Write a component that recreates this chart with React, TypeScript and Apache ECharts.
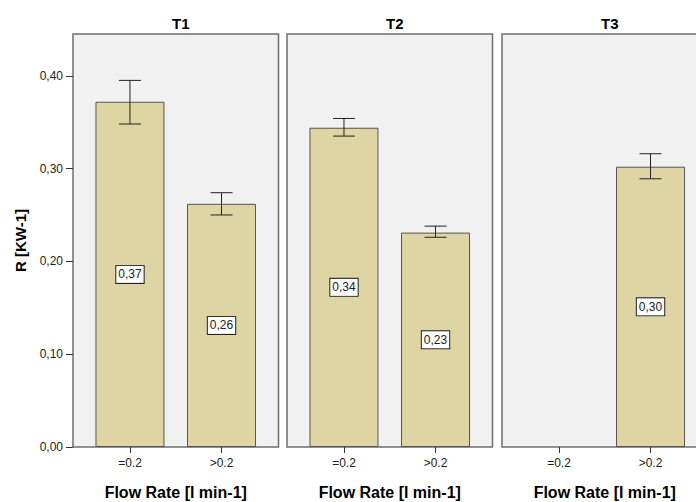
import React, { useEffect, useRef } from "react";
import * as echarts from "echarts";

const panels = ["T1", "T2", "T3"];
const categories = ["=0.2", ">0.2"];
const meanT1 = [0.372, 0.262];
const meanT2 = [0.344, 0.231];
const meanT3: (number | null)[] = [null, 0.302];
const lowT1 = [0.348, 0.25];
const lowT2 = [0.335, 0.226];
const lowT3: (number | null)[] = [null, 0.289];
const highT1 = [0.395, 0.274];
const highT2 = [0.354, 0.238];
const highT3: (number | null)[] = [null, 0.316];
const yTicks = [0, 0.1, 0.2, 0.3, 0.4];
const xTitle = "Flow Rate [l min-1]";
const yTitle = "R [KW-1]";

const means = [meanT1, meanT2, meanT3];
const lows = [lowT1, lowT2, lowT3];
const highs = [highT1, highT2, highT3];

const fmt = (v: number) => v.toFixed(2).replace(".", ",");

export default function App() {
  const ref = useRef<HTMLDivElement>(null);
  useEffect(() => {
    if (!ref.current) return;
    const chart = echarts.init(ref.current, null, { renderer: "svg" });
    const panelLefts = [73, 287, 502];
    const panelW = 205.5;
    const top = 34;
    const bottom = 447;
    const h = bottom - top;
    const inner = 11.2;
    const innerW = panelW - 2 * inner;
    const YMAX = 0.445;
    const font = "Arial, 'Liberation Sans', sans-serif";

    const grid: any[] = [];
    const xAxis: any[] = [];
    const yAxis: any[] = [];
    const series: any[] = [];
    const title: any[] = [];

    panels.forEach((p, i) => {
      const L = panelLefts[i];
      title.push({
        text: p,
        left: L + panelW / 2,
        top: 11,
        textAlign: "center",
        textStyle: { fontFamily: font, fontSize: 15, fontWeight: "bold", color: "#000" },
      });
      // frame grid
      grid.push({
        left: L, top, width: panelW, height: h, outerBoundsMode: "none", containLabel: false,
        show: true, backgroundColor: "#f1f1f1", borderColor: "#6e6e6e", borderWidth: 1.5,
      });
      xAxis.push({
        type: "category", gridIndex: 2 * i, data: categories, show: false,
      });
      yAxis.push({
        type: "value", gridIndex: 2 * i, min: 0, max: YMAX, show: i === 0,
        name: i === 0 ? yTitle : "",
        nameLocation: "middle", nameGap: 53,
        nameTextStyle: { fontFamily: font, fontSize: 15, fontWeight: "bold", color: "#000", verticalAlign: "middle" },
        axisLine: { show: false },
        axisTick: { show: true, length: 7, customValues: yTicks, lineStyle: { color: "#333" } },
        axisLabel: { customValues: yTicks, formatter: (v: number) => fmt(v), fontFamily: font, fontSize: 12, color: "#222", margin: 10 },
        splitLine: { show: false },
      });
      // bar grid
      grid.push({ left: L + inner, top, width: innerW, height: h, show: false, outerBoundsMode: "none", containLabel: false });
      xAxis.push({
        type: "category", gridIndex: 2 * i + 1, data: categories, boundaryGap: true,
        axisLine: { show: false },
        axisTick: { show: true, alignWithLabel: true, length: 6, lineStyle: { color: "#333" } },
        axisLabel: { fontFamily: font, fontSize: 12, color: "#222", margin: 10 },
        name: xTitle, nameLocation: "middle", nameGap: 45,
        nameTextStyle: { fontFamily: font, fontSize: 16, fontWeight: "bold", color: "#000", verticalAlign: "middle" },
      });
      yAxis.push({ type: "value", gridIndex: 2 * i + 1, min: 0, max: YMAX, show: false, splitLine: { show: false } });
      series.push({
        type: "bar", xAxisIndex: 2 * i + 1, yAxisIndex: 2 * i + 1,
        data: means[i], barWidth: 69,
        itemStyle: { color: "#dfd5a4", borderColor: "#555", borderWidth: 1 },
        label: {
          show: true, position: "inside",
          formatter: (pr: any) => fmt(pr.value),
          fontFamily: font, fontSize: 12, color: "#222",
          backgroundColor: "#fff", borderColor: "#222", borderWidth: 1, padding: [3, 2, 2, 2],
        },
      });
      const errData = categories.map((c, k) => [k, lows[i][k], highs[i][k]]).filter((d) => d[1] != null);
      series.push({
        type: "custom", xAxisIndex: 2 * i + 1, yAxisIndex: 2 * i + 1,
        data: errData,
        renderItem: (params: any, api: any) => {
          const x = api.value(0);
          const lo = api.coord([x, api.value(1)]);
          const hi = api.coord([x, api.value(2)]);
          const cw = 11;
          const st = { stroke: "#222", lineWidth: 1 };
          return {
            type: "group",
            children: [
              { type: "line", shape: { x1: lo[0], y1: lo[1], x2: hi[0], y2: hi[1] }, style: st },
              { type: "line", shape: { x1: lo[0] - cw, y1: lo[1], x2: lo[0] + cw, y2: lo[1] }, style: st },
              { type: "line", shape: { x1: hi[0] - cw, y1: hi[1], x2: hi[0] + cw, y2: hi[1] }, style: st },
            ],
          };
        },
        z: 5,
      });
    });

    chart.setOption({
      animation: false,
      backgroundColor: "#fff",
      title, grid, xAxis, yAxis, series,
    });
    return () => chart.dispose();
  }, []);
  return <div ref={ref} style={{ position: "fixed", left: 0, top: 0, width: 696, height: 502 }} />;
}
